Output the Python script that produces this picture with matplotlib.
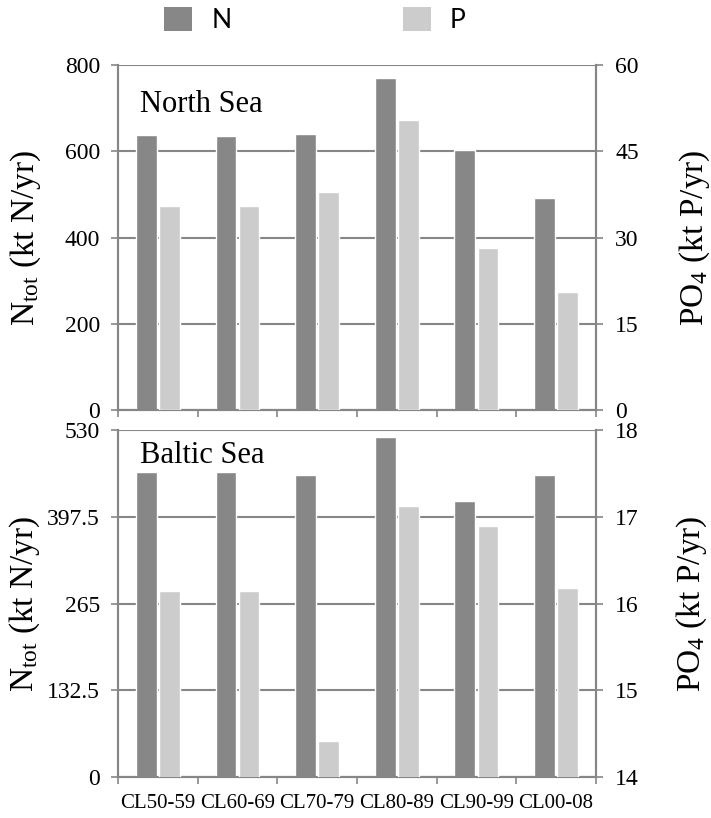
import matplotlib
matplotlib.use("Agg")
import matplotlib.pyplot as plt
import numpy as np
from matplotlib.patches import Patch

plt.rcParams['font.family'] = ['Liberation Serif', 'DejaVu Serif']
plt.rcParams['mathtext.fontset'] = 'custom'
plt.rcParams['mathtext.rm'] = 'Liberation Serif'
plt.rcParams['mathtext.it'] = 'Liberation Serif:italic'

categories = ["CL50-59", "CL60-69", "CL70-79", "CL80-89", "CL90-99", "CL00-08"]
north_N = [637, 636, 641, 769, 604, 492]
north_P = [35.5, 35.5, 37.9, 50.5, 28.2, 20.5]
baltic_N = [466, 466, 461, 519, 422, 461]
baltic_P = [16.14, 16.14, 14.42, 17.12, 16.89, 16.18]

north_left_ticks = [0, 200, 400, 600, 800]
north_right_ticks = [0, 15, 30, 45, 60]
baltic_left_ticks = [0, 132.5, 265, 397.5, 530]
baltic_left_labels = ["0", "132.5", "265", "397.5", "530"]
baltic_right_ticks = [14, 15, 16, 17, 18]

dark = '#878787'
light = '#cccccc'
gray = '#868686'

fig = plt.figure(figsize=(7.11, 8.18), dpi=100)
x = np.arange(len(categories))
w = 0.26
off = 0.145

def make_panel(rect, nvals, pvals, lticks, llabels, rticks, title, title_y, show_x):
    ax = fig.add_axes(rect)
    ax2 = ax.twinx()
    ax.bar(x - off, nvals, width=w, color=dark, edgecolor='white', linewidth=1.0, zorder=3)
    ax2.bar(x + off, pvals, width=w, color=light, edgecolor='white', linewidth=1.0, zorder=3,
            bottom=0)
    ax.set_xlim(-0.5, len(categories) - 0.5)
    ax.set_ylim(lticks[0], lticks[-1])
    ax2.set_ylim(rticks[0], rticks[-1])
    ax.set_yticks(lticks)
    ax.set_yticklabels(llabels, fontsize=17)
    ax2.set_yticks(rticks)
    ax2.set_yticklabels([str(t) for t in rticks], fontsize=17)
    ax.set_axisbelow(True)
    ax.yaxis.grid(True, color=gray, linewidth=1.5)
    for a in (ax, ax2):
        a.spines['top'].set_visible(False)
        for s in ('left', 'right', 'bottom'):
            a.spines[s].set_color(gray)
            a.spines[s].set_linewidth(1.5)
    ax.tick_params(axis='y', direction='out', length=5, width=1.2, color=gray, pad=8)
    ax2.tick_params(axis='y', direction='out', length=5, width=1.2, color=gray, pad=9)
    ax.set_xticks(np.arange(len(categories) + 1) - 0.5)
    ax.set_xticklabels([])
    ax.tick_params(axis='x', which='major', direction='out', length=5, width=1.2, color=gray)
    if show_x:
        ax.set_xticks(x, minor=True)
        ax.set_xticklabels(categories, minor=True, fontsize=15)
        ax.tick_params(axis='x', which='minor', length=0, pad=12)
    ax.set_ylabel(r'N$_{\mathrm{tot}}$ (kt N/yr)', fontsize=24)
    ax2.set_ylabel(r'PO$_{4}$ (kt P/yr)', fontsize=24)
    ax.text(0.046, title_y, title, transform=ax.transAxes, fontsize=22, va='baseline')
    return ax, ax2

ax_top, ax_top2 = make_panel([0.166, 0.4988, 0.672, 0.4217], north_N, north_P,
                             north_left_ticks, [str(t) for t in north_left_ticks],
                             north_right_ticks, 'North Sea', 0.864, False)
ax_bot, ax_bot2 = make_panel([0.166, 0.0501, 0.672, 0.4242], baltic_N, baltic_P,
                             baltic_left_ticks, baltic_left_labels,
                             baltic_right_ticks, 'Baltic Sea', 0.905, True)

ax_top.yaxis.set_label_coords(-0.157, 0.5)
ax_bot.yaxis.set_label_coords(-0.160, 0.5)
ax_top2.yaxis.set_label_coords(1.172, 0.5)
ax_bot2.yaxis.set_label_coords(1.165, 0.5)

handles = [Patch(facecolor=dark, edgecolor='none', label='N'),
           Patch(facecolor=light, edgecolor='none', label='P')]
fig.legend(handles=handles, loc='center', bbox_to_anchor=(0.443, 0.9756), ncol=2,
           frameon=False, prop={'family': 'Lato', 'size': 19},
           handlelength=1.06, handleheight=1.02, handletextpad=0.72, columnspacing=6.5,
           borderpad=0.2)

fig.savefig('out.png', dpi=100)
